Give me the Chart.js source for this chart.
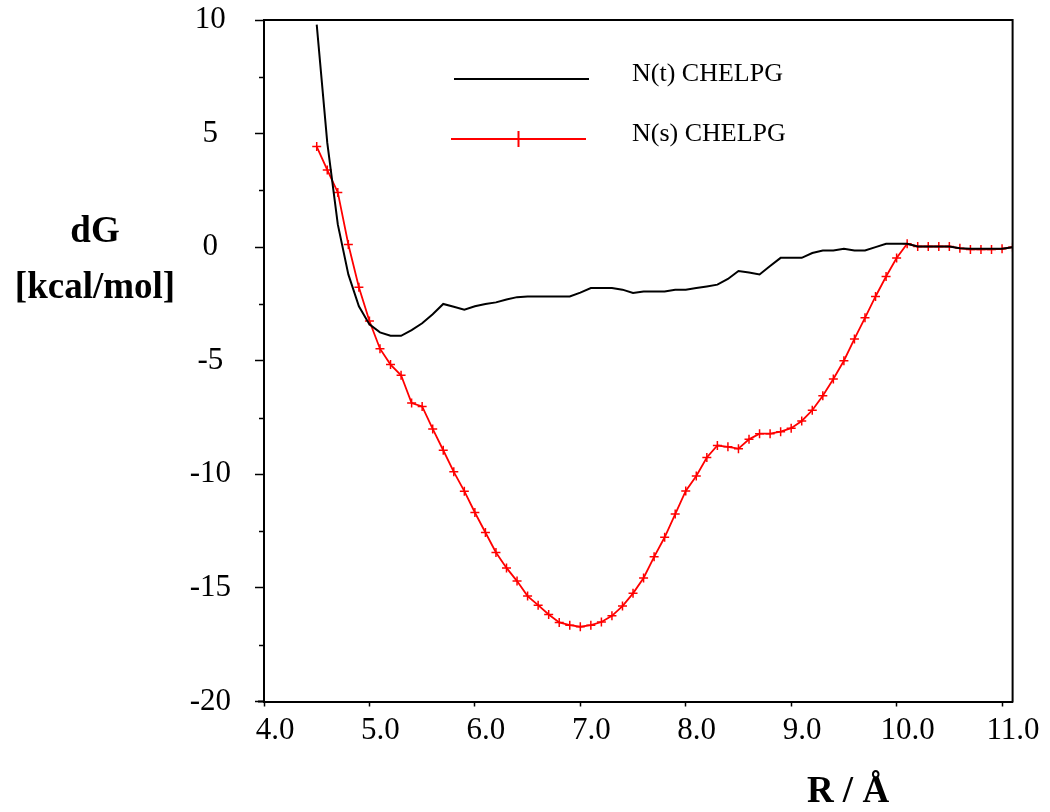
<!DOCTYPE html>
<html>
<head>
<meta charset="utf-8">
<title>dG vs R</title>
<script src="https://cdn.jsdelivr.net/npm/chart.js@4.4.1/dist/chart.umd.min.js"></script>
<style>
    html, body { margin: 0; padding: 0; background: #fff; }
    #wrap { width: 1050px; height: 812px; }
</style>
</head>
<body>
<div id="wrap"><canvas id="chart" width="1050" height="812"></canvas></div>
<script>
// R / Å sample positions
const rValues = [
    4.5, 4.6, 4.7, 4.8, 4.9,
    5.0, 5.1, 5.2, 5.3, 5.4, 5.5, 5.6, 5.7, 5.8, 5.9,
    6.0, 6.1, 6.2, 6.3, 6.4, 6.5, 6.6, 6.7, 6.8, 6.9,
    7.0, 7.1, 7.2, 7.3, 7.4, 7.5, 7.6, 7.7, 7.8, 7.9,
    8.0, 8.1, 8.2, 8.3, 8.4, 8.5, 8.6, 8.7, 8.8, 8.9,
    9.0, 9.1, 9.2, 9.3, 9.4, 9.5, 9.6, 9.7, 9.8, 9.9,
    10.0, 10.1, 10.2, 10.3, 10.4, 10.5, 10.6, 10.7, 10.8, 10.9,
    11.0, 11.1
];

// N(t) CHELPG
const ntChelpg = [
    9.8, 4.6, 1.0, -1.2, -2.6,
    -3.4, -3.75, -3.9, -3.9, -3.65, -3.35, -2.95, -2.5, -2.62, -2.75,
    -2.6, -2.5, -2.43, -2.3, -2.2, -2.17, -2.17, -2.17, -2.17, -2.17,
    -2.0, -1.8, -1.8, -1.8, -1.87, -2.02, -1.95, -1.95, -1.95, -1.87,
    -1.87, -1.8, -1.73, -1.65, -1.4, -1.05, -1.12, -1.2, -0.83, -0.47,
    -0.47, -0.47, -0.26, -0.15, -0.15, -0.07, -0.15, -0.15, 0.0, 0.15,
    0.15, 0.15, 0.03, 0.03, 0.03, 0.03, -0.05, -0.07, -0.07, -0.07,
    -0.07, 0.0
];

// N(s) CHELPG
const nsChelpg = [
    4.43, 3.4, 2.41, 0.12, -1.76,
    -3.25, -4.47, -5.17, -5.64, -6.86, -7.01, -8.0, -8.94, -9.89, -10.74,
    -11.68, -12.56, -13.44, -14.12, -14.7, -15.36, -15.76, -16.17, -16.52, -16.64,
    -16.71, -16.64, -16.5, -16.23, -15.8, -15.24, -14.56, -13.63, -12.77, -11.75,
    -10.73, -10.07, -9.26, -8.73, -8.79, -8.87, -8.46, -8.21, -8.21, -8.12,
    -7.97, -7.65, -7.18, -6.54, -5.8, -5.0, -4.04, -3.11, -2.17, -1.29,
    -0.48, 0.15, 0.03, 0.03, 0.03, 0.03, -0.05, -0.1, -0.1, -0.1,
    -0.07, 0.0
];

const seriesLabels = ['N(t) CHELPG', 'N(s) CHELPG'];
const xTickValues = [4, 5, 6, 7, 8, 9, 10, 11];
const yTickValues = [-20, -15, -10, -5, 0, 5, 10];
const yMinorTicks = [-17.5, -12.5, -7.5, -2.5, 2.5, 7.5];

const serif = '"Liberation Serif", "Times New Roman", serif';

function toPoints(values) {
    return rValues.map((r, i) => ({ x: r, y: values[i] }));
}

// Frame, minor ticks, axis titles and the legend box inside the plot
const figureExtras = {
    id: 'figureExtras',
    afterDraw(chart) {
        const ctx = chart.ctx;
        const area = chart.chartArea;
        const yScale = chart.scales.y;
        ctx.save();

        ctx.strokeStyle = '#000';
        ctx.lineWidth = 2;
        ctx.beginPath();
        ctx.moveTo(area.left - 6, area.bottom);
        ctx.lineTo(area.left, area.bottom);
        ctx.moveTo(area.left - 1, area.top);
        ctx.lineTo(area.right, area.top);
        ctx.lineTo(area.right, area.bottom + 1);
        ctx.stroke();

        ctx.lineWidth = 1.5;
        ctx.beginPath();
        yMinorTicks.forEach(v => {
            const y = Math.round(yScale.getPixelForValue(v)) + 0.5;
            ctx.moveTo(area.left - 5, y);
            ctx.lineTo(area.left, y);
        });
        ctx.stroke();

        // Axis titles
        ctx.fillStyle = '#000';
        ctx.textAlign = 'center';
        ctx.textBaseline = 'alphabetic';
        ctx.font = 'bold 37px ' + serif;
        ctx.fillText('dG', 95, 242);
        ctx.fillText('[kcal/mol]', 95, 298);
        ctx.font = 'bold 37px ' + serif;
        ctx.fillText('R / Å', 848, 802);

        // Legend
        const ds = chart.data.datasets;
        const rows = [
            { x0: 454, x1: 589, y: 79, textY: 81 },
            { x0: 451, x1: 586, y: 139, textY: 141 }
        ];
        ctx.font = '26px ' + serif;
        ctx.textAlign = 'left';
        rows.forEach((row, i) => {
            ctx.strokeStyle = ds[i].borderColor;
            ctx.lineWidth = 2;
            ctx.beginPath();
            ctx.moveTo(row.x0, row.y);
            ctx.lineTo(row.x1, row.y);
            if (ds[i].pointRadius > 0) {
                const cx = (row.x0 + row.x1) / 2;
                ctx.moveTo(cx, row.y - 8);
                ctx.lineTo(cx, row.y + 8);
            }
            ctx.stroke();
            ctx.fillStyle = '#000';
            ctx.fillText(ds[i].label, 632, row.textY);
        });

        ctx.restore();
    }
};

const ctx = document.getElementById('chart');
new Chart(ctx, {
    type: 'line',
    data: {
        datasets: [{
            label: seriesLabels[0],
            data: toPoints(ntChelpg),
            borderColor: '#000000',
            backgroundColor: '#000000',
            borderWidth: 2,
            pointRadius: 0,
            tension: 0
        }, {
            label: seriesLabels[1],
            data: toPoints(nsChelpg),
            borderColor: '#ff0000',
            backgroundColor: '#ff0000',
            borderWidth: 1.8,
            pointStyle: 'cross',
            pointRadius: 4.5,
            pointBorderWidth: 1.5,
            pointBorderColor: '#ff0000',
            tension: 0
        }]
    },
    options: {
        responsive: false,
        animation: false,
        events: [],
        layout: { padding: { top: 20, right: 37.4, left: 0, bottom: 0 } },
        plugins: {
            legend: { display: false },
            tooltip: { enabled: false }
        },
        scales: {
            x: {
                type: 'linear',
                min: 4.0,
                max: 11.1,
                afterBuildTicks: scale => {
                    scale.ticks = xTickValues.map(v => ({ value: v }));
                },
                afterFit: scale => { scale.height = 110.5; },
                grid: { drawOnChartArea: false, tickLength: 5, tickWidth: 1.5, tickColor: '#000' },
                border: { display: true, color: '#000', width: 2 },
                ticks: {
                    color: '#000',
                    padding: 6,
                    labelOffset: 11,
                    maxRotation: 0,
                    font: { family: serif, size: 31 },
                    callback: v => Number(v).toFixed(1)
                }
            },
            y: {
                type: 'linear',
                min: -20,
                max: 10,
                afterBuildTicks: scale => {
                    scale.ticks = yTickValues.map(v => ({ value: v }));
                },
                afterFit: scale => {
                    scale.width = 264;
                    scale.paddingTop = 0;
                    scale.paddingBottom = 0;
                },
                grid: { drawOnChartArea: false, tickLength: 9, tickWidth: 1.5, tickColor: '#000' },
                border: { display: true, color: '#000', width: 2 },
                ticks: {
                    color: '#000',
                    padding: 24,
                    crossAlign: 'center',
                    font: { family: serif, size: 31 },
                    callback: v => String(v)
                }
            }
        }
    },
    plugins: [figureExtras]
});
</script>
</body>
</html>
